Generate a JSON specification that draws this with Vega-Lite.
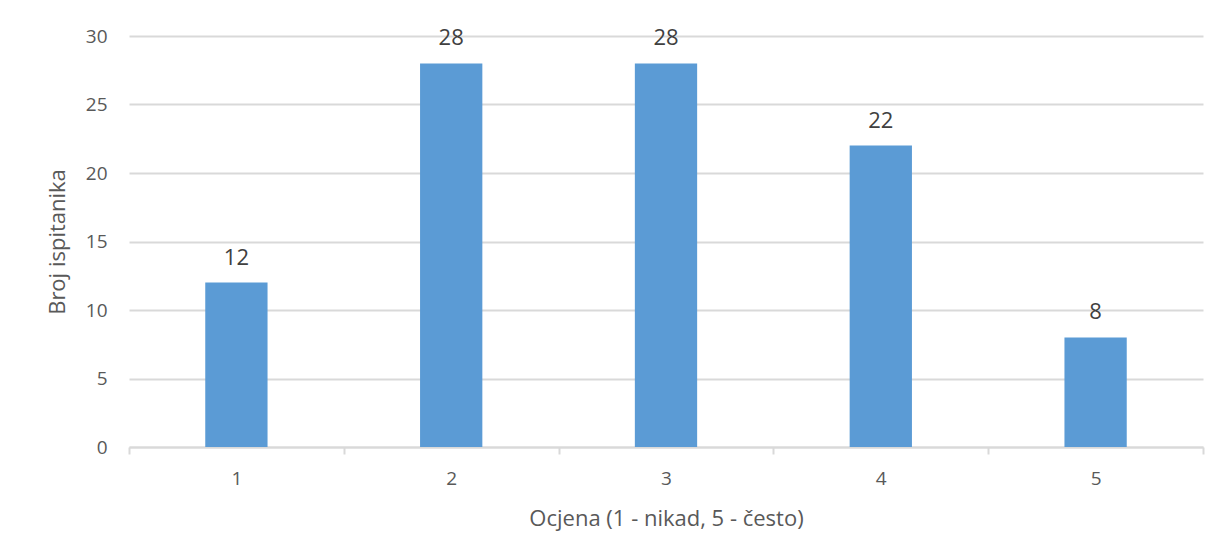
{
  "$schema": "https://vega.github.io/schema/vega-lite/v6.json",
  "autosize": {"type": "none"},
  "padding": {"left": 129, "top": 36, "right": 27, "bottom": 113},
  "width": 1074,
  "height": 411,
  "background": "white",
  "config": {
    "view": {"stroke": null},
    "font": "Open Sans"
  },
  "data": {"values": [
    {"ocjena": "1", "broj": 12},
    {"ocjena": "2", "broj": 28},
    {"ocjena": "3", "broj": 28},
    {"ocjena": "4", "broj": 22},
    {"ocjena": "5", "broj": 8}
  ]},
  "encoding": {
    "x": {
      "field": "ocjena", "type": "ordinal",
      "scale": {"paddingInner": 0, "paddingOuter": 0},
      "axis": {
        "title": "Ocjena (1 - nikad, 5 - često)",
        "labelAngle": 0,
        "tickBand": "extent",
        "tickSize": 7,
        "tickColor": "#D9D9D9",
        "tickWidth": 2,
        "domainColor": "#D9D9D9",
        "domainWidth": 2,
        "labelFontSize": 19,
        "labelColor": "#595959",
        "labelPadding": 15,
        "titleFontSize": 22,
        "titleFontWeight": "normal",
        "titleColor": "#595959",
        "titlePadding": 20
      }
    },
    "y": {
      "field": "broj", "type": "quantitative",
      "scale": {"domain": [0, 30]},
      "axis": {
        "title": "Broj ispitanika",
        "values": [0, 5, 10, 15, 20, 25, 30],
        "ticks": false,
        "domain": false,
        "gridColor": "#D9D9D9",
        "gridWidth": 2,
        "labelFontSize": 19,
        "labelColor": "#595959",
        "labelPadding": 22,
        "titleFontSize": 22,
        "titleFontWeight": "normal",
        "titleColor": "#595959",
        "titlePadding": 16
      }
    }
  },
  "layer": [
    {"mark": {"type": "bar", "color": "#5B9BD5", "width": {"band": 0.29}}},
    {
      "mark": {"type": "text", "baseline": "bottom", "dy": -13, "fontSize": 22, "color": "#404040"},
      "encoding": {"text": {"field": "broj", "type": "quantitative"}}
    }
  ]
}
